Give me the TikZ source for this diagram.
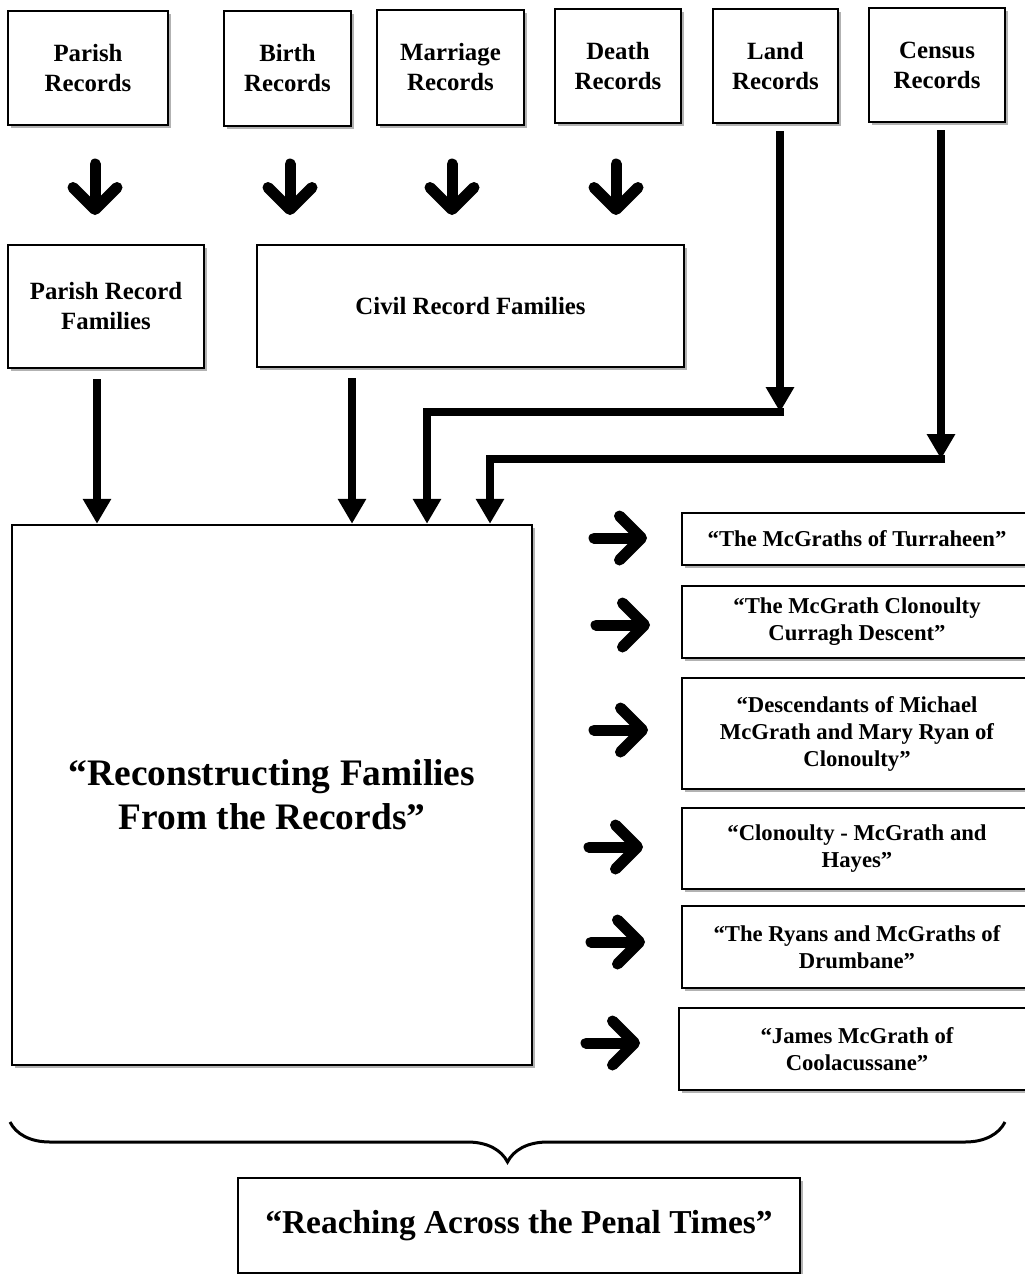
\documentclass[tikz,border=0pt]{standalone}
\usepackage{fontspec}
\setmainfont{Liberation Serif}
\usepackage{tikz}
\usetikzlibrary{arrows.meta}
\usetikzlibrary{calc}
\usetikzlibrary{shadows}
\usetikzlibrary{decorations.pathreplacing}

\tikzset{
    recbox/.style={draw, line width=2.5pt, fill=white, align=center, inner sep=0pt,
        font=\bfseries\fontsize{24.8}{30}\selectfont,
        drop shadow={shadow xshift=3pt, shadow yshift=-3pt, fill=black!60}},
    storybox/.style={recbox, minimum width=350pt, font=\bfseries\fontsize{22.7}{27}\selectfont},
    famlink/.style={line width=8pt, -{Triangle[length=25pt, width=27pt]}},
    fatarrow/.style={line width=11pt, line cap=round, -{Straight Barb[round, length=22pt, width=44pt]}}
}

\begin{document}
\begin{tikzpicture}[x=1pt, y=-1pt]
    \useasboundingbox (0, 0) rectangle (1025, 1274);

    % registri
    \node[recbox, minimum width=160pt, minimum height=114pt] (parish) at (88, 68) {Parish\\Records};
    \node[recbox, minimum width=127pt, minimum height=115pt] (birth) at (287.5, 68.5) {Birth\\Records};
    \node[recbox, minimum width=147pt, minimum height=115pt] (marriage) at (450.5, 67.5) {Marriage\\Records};
    \node[recbox, minimum width=126pt, minimum height=114pt] (death) at (618, 66) {Death\\Records};
    \node[recbox, minimum width=125pt, minimum height=114pt] (land) at (775.5, 66) {Land\\Records};
    \node[recbox, minimum width=136pt, minimum height=114pt] (census) at (937, 65) {Census\\Records};

    % frecce grosse
    \foreach \x in {95, 290, 452, 616} {
        \draw[fatarrow] (\x, 164) -- (\x, 215);
    }

    % famiglie
    \node[recbox, minimum width=196pt, minimum height=123pt] (parishfam) at (106, 306.5) {Parish Record\\Families};
    \node[recbox, minimum width=427pt, minimum height=122pt] (civilfam) at (470.5, 306) {Civil Record Families};

    % ricostruzione
    \node[recbox, minimum width=520pt, minimum height=540pt, font=\bfseries\fontsize{37.4}{44}\selectfont] (recon) at (272, 795) {“Reconstructing Families\\From the Records”};

    % collegamenti
    \coordinate (pf) at ([xshift=-9pt]parishfam.south);
    \coordinate (cf) at ([xshift=-118.5pt]civilfam.south);
    \draw[famlink] ([yshift=-10pt]pf) -- (pf |- recon.north);
    \draw[famlink] ([yshift=-10pt]cf) -- (cf |- recon.north);

    \coordinate (landbend) at (780, 412);
    \coordinate (landdrop) at (427, 412);
    \draw[famlink] ($(landbend |- land.south)+(0, 7)$) -- (landbend);
    \draw[famlink] ([xshift=4pt]landbend) -- (landdrop) -- (landdrop |- recon.north);

    \coordinate (censusbend) at (941, 459);
    \coordinate (censusdrop) at (490, 459);
    \draw[famlink] ($(censusbend |- census.south)+(0, 7)$) -- (censusbend);
    \draw[famlink] ([xshift=4pt]censusbend) -- (censusdrop) -- (censusdrop |- recon.north);

    % storie
    \node[storybox, minimum height=52pt] (r1) at (857, 539) {“The McGraths of Turraheen”};
    \node[storybox, minimum height=72pt] (r2) at (857, 622) {“The McGrath Clonoulty\\Curragh Descent”};
    \node[storybox, minimum height=111pt] (r3) at (857, 733.5) {“Descendants of Michael\\McGrath and Mary Ryan of\\Clonoulty”};
    \node[storybox, minimum height=81pt] (r4) at (857, 848.5) {“Clonoulty - McGrath and\\Hayes”};
    \node[storybox, minimum height=82pt] (r5) at (857, 947) {“The Ryans and McGraths of\\Drumbane”};
    \node[storybox, minimum height=82pt, minimum width=356pt] (r6) at (857, 1049) {“James McGrath of\\Coolacussane”};

    \foreach \xa/\xb/\y in {594/647/538, 596/650/625, 594/648/730, 589/643/847, 591/645/942, 586/640/1043} {
        \draw[fatarrow] (\xa, \y) -- (\xb, \y);
    }

    % graffa
    \draw[decorate, decoration={brace, amplitude=40pt}, line width=3pt] (1005, 1122) -- (10, 1122);

    \node[recbox, minimum width=562pt, minimum height=95pt, font=\bfseries\fontsize{33.4}{40}\selectfont] (penal) at (519, 1225.5) {“Reaching Across the Penal Times”};
\end{tikzpicture}
\end{document}
